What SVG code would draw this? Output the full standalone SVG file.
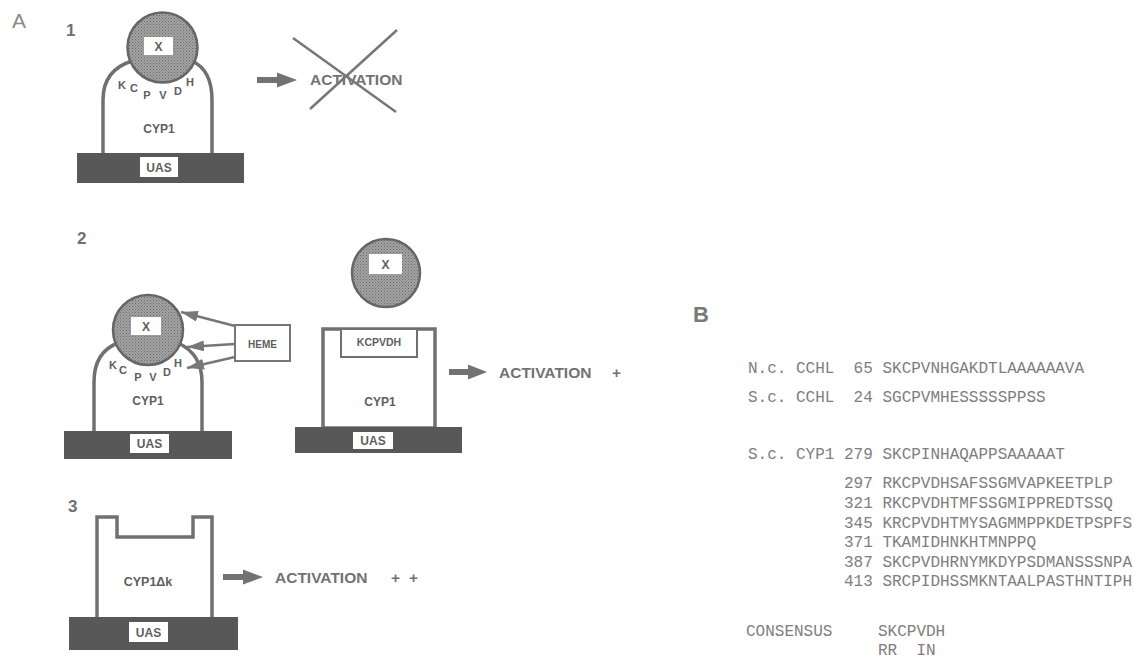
<svg xmlns="http://www.w3.org/2000/svg" width="1133" height="661" viewBox="0 0 1133 661">
<style>
.lbl{font-family:"Liberation Sans",Arial,sans-serif;font-weight:bold;fill:#6e6e6e}
.num{font-family:"Liberation Sans",Arial,sans-serif;font-weight:bold;fill:#707070;font-size:17px}
.in{font-family:"Liberation Sans",Arial,sans-serif;font-weight:bold;fill:#5e5e5e;text-anchor:middle}
.act{font-family:"Liberation Sans",Arial,sans-serif;font-weight:bold;fill:#727272;font-size:15.5px}
.seq{font-family:"Liberation Mono","Courier New",monospace;font-size:16px;fill:#7e7e7e;white-space:pre}
.body{fill:#fff;stroke:#707070;stroke-width:3.5}
.bar{fill:#585858}
.wbox{fill:#fff}
.ball{fill:url(#stip);stroke:#666;stroke-width:2.5}
.thin{fill:none;stroke:#777;stroke-width:2.5}
.big{fill:#727272}
</style>
<defs>
<pattern id="stip" width="3" height="3" patternUnits="userSpaceOnUse">
<rect width="3" height="3" fill="#a2a2a2"/>
<rect width="1" height="1" fill="#6a6a6a"/>
<rect x="1.5" y="1.5" width="1" height="1" fill="#7a7a7a"/>
</pattern>
<marker id="ah" markerUnits="userSpaceOnUse" markerWidth="18" markerHeight="12" refX="17" refY="5.5" orient="auto">
<path d="M0,0 L17,5.5 L0,11 z" fill="#777"/>
</marker>
<path id="bigarrow" d="M0,-3 H20 V-7.5 L40,0 L20,7.5 V3 H0 z"/>
</defs>
<rect width="1133" height="661" fill="#fff"/>

<g id="panelA-label"><text x="12" y="28" font-family="Liberation Sans,Arial,sans-serif" font-size="21" fill="#8a8a8a">A</text></g>

<g id="panel1">
<text class="num" x="66" y="36">1</text>
<g id="p1-cyp1">
<path class="body" d="M103,153 V100 Q103,70 132,61 L192,61 Q212,70 212,100 V153"/>
<text class="in" x="159" y="133" font-size="12">CYP1</text>
</g>
<g id="p1-x">
<circle class="ball" cx="162.5" cy="47.5" r="35"/>
<rect class="wbox" x="144" y="37" width="29" height="18"/>
<text class="in" x="158.5" y="51" font-size="12">X</text>
</g>
<g id="p1-motif" class="in" font-size="11">
<text x="122" y="89">K</text><text x="134" y="92">C</text><text x="147" y="99">P</text><text x="163" y="99">V</text><text x="178" y="95">D</text><text x="190" y="86">H</text>
</g>
<g id="p1-uas">
<rect class="bar" x="77" y="153" width="167" height="30"/>
<rect class="wbox" x="140" y="157" width="38" height="20"/>
<text class="in" x="159" y="172" font-size="12">UAS</text>
</g>
<g id="p1-act">
<text class="act" x="310" y="85">ACTIVATION</text>
<line x1="293" y1="38" x2="396" y2="112" stroke="#777" stroke-width="2.5"/>
<line x1="397" y1="30" x2="310" y2="109" stroke="#777" stroke-width="2.5"/>
</g>
</g>

<g id="panel2">
<text class="num" x="77" y="244">2</text>
<g id="p2-cyp1">
<path class="body" d="M94,431 V382 Q94,352 118,343 L178,343 Q202,354 202,382 V431"/>
<text class="in" x="148" y="405" font-size="12">CYP1</text>
</g>
<g id="p2-x">
<circle class="ball" cx="148" cy="330" r="35"/>
<rect class="wbox" x="131" y="317" width="30" height="18"/>
<text class="in" x="146" y="331" font-size="12">X</text>
</g>
<g id="p2-motif" class="in" font-size="11">
<text x="113" y="369">K</text><text x="123" y="374">C</text><text x="138" y="381">P</text><text x="153" y="381">V</text><text x="167" y="376">D</text><text x="178" y="367">H</text>
</g>
<g id="p2-uas">
<rect class="bar" x="64" y="431" width="168" height="28"/>
<rect class="wbox" x="130" y="434" width="39" height="19"/>
<text class="in" x="149.5" y="448" font-size="12">UAS</text>
</g>
<g id="heme">
<rect x="235" y="325" width="55" height="36" fill="#fff" stroke="#777" stroke-width="2"/>
<text class="in" x="262.5" y="347.5" font-size="10">HEME</text>
</g>
<g id="p2-x-free">
<circle class="ball" cx="386" cy="273" r="34"/>
<rect class="wbox" x="369" y="254" width="33" height="20"/>
<text class="in" x="385.5" y="268.5" font-size="12">X</text>
</g>
<g id="p2-cyp1-box">
<rect class="body" x="323" y="329" width="112" height="99"/>
<rect x="341" y="329" width="76" height="28" fill="#fff" stroke="#707070" stroke-width="2"/>
<text class="in" x="379" y="346" font-size="10.5">KCPVDH</text>
<text class="in" x="380" y="406" font-size="12">CYP1</text>
</g>
<g id="p2-uas2">
<rect class="bar" x="295" y="427" width="167" height="26"/>
<rect class="wbox" x="353" y="432" width="40" height="17"/>
<text class="in" x="373" y="445" font-size="12">UAS</text>
</g>
<g id="p2-act">
<text class="act" x="499" y="378">ACTIVATION</text>
<text class="act" x="612" y="378">+</text>
</g>
</g>

<g id="panel3">
<text class="num" x="68" y="512">3</text>
<g id="p3-cyp1dk">
<path class="body" d="M97,617 V517 H117 V537 H193 V517 H212 V617"/>
<text class="in" x="148" y="586" font-size="12.5">CYP1Δk</text>
</g>
<g id="p3-uas">
<rect class="bar" x="69" y="617" width="169" height="33"/>
<rect class="wbox" x="129" y="622" width="39" height="20"/>
<text class="in" x="148.5" y="637" font-size="12">UAS</text>
</g>
<g id="p3-act">
<text class="act" x="275" y="583">ACTIVATION</text>
<text class="act" x="391" y="583">+</text>
<text class="act" x="409" y="583">+</text>
</g>
</g>

<g id="connectors">
<use href="#bigarrow" class="big" x="257" y="80"/>
<use href="#bigarrow" class="big" x="449" y="372" transform="translate(449,372) scale(0.95,1) translate(-449,-372)"/>
<use href="#bigarrow" class="big" x="223" y="577"/>
<line class="thin" x1="235" y1="326" x2="181" y2="312" marker-end="url(#ah)"/>
<line class="thin" x1="235" y1="344" x2="187" y2="347" marker-end="url(#ah)"/>
<line class="thin" x1="235" y1="357" x2="187" y2="368" marker-end="url(#ah)"/>
</g>

<g id="panelB">
<text x="693" y="322" font-family="Liberation Sans,Arial,sans-serif" font-weight="bold" font-size="22" fill="#7a7a7a">B</text>
<text class="seq" x="748" y="373">N.c. CCHL  65 SKCPVNHGAKDTLAAAAAAVA</text>
<text class="seq" x="748" y="402">S.c. CCHL  24 SGCPVMHESSSSSPPSS</text>
<text class="seq" x="748" y="459">S.c. CYP1 279 SKCPINHAQAPPSAAAAAT</text>
<text class="seq" x="844" y="488">297 RKCPVDHSAFSSGMVAPKEETPLP</text>
<text class="seq" x="844" y="508">321 RKCPVDHTMFSSGMIPPREDTSSQ</text>
<text class="seq" x="844" y="528">345 KRCPVDHTMYSAGMMPPKDETPSPFS</text>
<text class="seq" x="844" y="547">371 TKAMIDHNKHTMNPPQ</text>
<text class="seq" x="844" y="567">387 SKCPVDHRNYMKDYPSDMANSSSNPA</text>
<text class="seq" x="844" y="586">413 SRCPIDHSSMKNTAALPASTHNTIPH</text>
<text class="seq" x="746" y="636">CONSENSUS</text>
<text class="seq" x="878" y="636">SKCPVDH</text>
<text class="seq" x="878" y="655">RR  IN</text>
</g>
</svg>
